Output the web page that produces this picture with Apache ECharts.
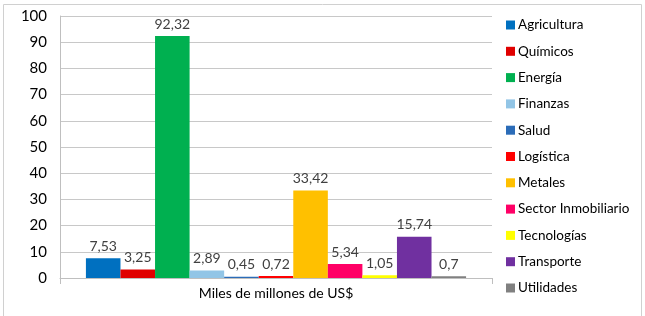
<!DOCTYPE html>
<html>
<head>
<meta charset="utf-8">
<script src="https://cdn.jsdelivr.net/npm/echarts@6/dist/echarts.min.js"></script>
<style>
  html, body { margin: 0; padding: 0; background: #fff; }
  #chart { width: 645px; height: 316px; }
</style>
</head>
<body>
<div id="chart"></div>
<script>
  // datos del grafico
  const categories = ['Miles de millones de US$']
  const sectors = ['Agricultura', 'Químicos', 'Energía', 'Finanzas', 'Salud', 'Logística',
    'Metales', 'Sector Inmobiliario', 'Tecnologías', 'Transporte', 'Utilidades']
  const values = [7.53, 3.25, 92.32, 2.89, 0.45, 0.72, 33.42, 5.34, 1.05, 15.74, 0.7]
  const colors = ['#0070C0', '#E00000', '#00B050', '#92C5E6', '#2B6CB8', '#FF0000',
    '#FFC000', '#FF0066', '#FFFF00', '#7030A0', '#808080']
  const yTicks = { min: 0, max: 100, interval: 10 }

  const font = 'Lato, "Open Sans", sans-serif'
  const myChart = echarts.init(document.getElementById('chart'))

  const series = []
  for (let i = 0; i < sectors.length; i++) {
    series.push({
      name: sectors[i],
      type: 'bar',
      barGap: '0%',
      barCategoryGap: '12%',
      itemStyle: { color: colors[i] },
      label: {
        show: true,
        position: 'top',
        distance: 5,
        color: '#404040',
        fontSize: 14,
        fontFamily: font,
        formatter: p => String(p.value).replace('.', ',')
      },
      data: [values[i]]
    })
  }

  const option = {
    animation: false,
    color: colors,
    textStyle: { fontFamily: font },
    graphic: [{
      type: 'rect',
      shape: { x: 3.5, y: 4.5, width: 638, height: 330 },
      style: { fill: 'none', stroke: '#d0d0d0', lineWidth: 1 },
      silent: true
    }],
    grid: { left: 60, right: 153, top: 16, bottom: 38 },
    legend: {
      orient: 'vertical',
      left: 501,
      top: 13,
      itemWidth: 9,
      itemHeight: 9,
      itemGap: 12.3,
      icon: 'rect',
      textStyle: { color: '#000', fontSize: 13.5, lineHeight: 14, fontFamily: font, padding: [0, 0, 0, -2] },
      data: sectors
    },
    xAxis: {
      type: 'category',
      data: categories,
      axisLine: { lineStyle: { color: '#bfbfbf' } },
      axisTick: { show: true, length: 6, lineStyle: { color: '#bfbfbf' } },
      axisLabel: { color: '#000', fontSize: 14, margin: 8, fontFamily: font }
    },
    yAxis: {
      type: 'value',
      min: yTicks.min,
      max: yTicks.max,
      interval: yTicks.interval,
      axisLine: { show: true, lineStyle: { color: '#bfbfbf' } },
      axisTick: { show: false },
      axisLabel: { color: '#000', fontSize: 15, margin: 13, fontFamily: font },
      splitLine: { lineStyle: { color: '#c8c8c8' } }
    },
    series: series
  }
  myChart.setOption(option)
</script>
</body>
</html>
